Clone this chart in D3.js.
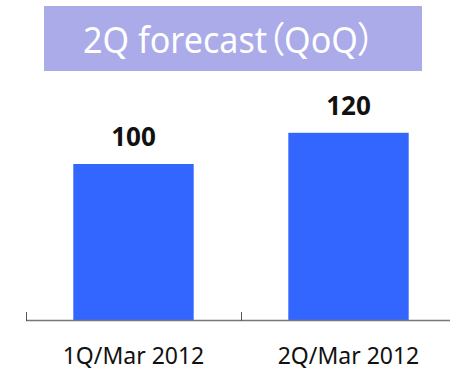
<!DOCTYPE html>
<html><head><meta charset="utf-8">
<script src="https://cdn.jsdelivr.net/npm/d3@7"></script>
<style>html,body{margin:0;padding:0;background:#fff;}svg{display:block;}
.palt{font-feature-settings:"palt" 1;}</style>
</head><body>
<script>
const title = "2Q forecast（QoQ）";
const categories = ["1Q/Mar 2012", "2Q/Mar 2012"];
const values = [100, 120];

const W = 450, H = 371;
const svg = d3.select("body").append("svg").attr("width", W).attr("height", H);

// title box
svg.append("rect").attr("x", 44).attr("y", 6).attr("width", 378).attr("height", 65).attr("fill", "#ABABEA");
svg.append("text").attr("x", 83).attr("y", 53).attr("fill", "#fff").attr("class", "palt")
  .attr("font-family", "'Noto Sans', 'Noto Sans CJK JP', sans-serif").attr("font-size", 36)
  .attr("textLength", 292).attr("lengthAdjust", "spacingAndGlyphs")
  .text(title);

const x = d3.scaleBand().domain(categories).range([26, 456]).paddingInner(0.44).paddingOuter(0.22);
const y = d3.scaleLinear().domain([0, 150]).range([320, 86]);

svg.selectAll("rect.bar").data(values).join("rect").attr("class", "bar")
  .attr("x", (d, i) => x(categories[i])).attr("width", x.bandwidth())
  .attr("y", d => y(d)).attr("height", d => y(0) - y(d)).attr("fill", "#3366FF");

svg.selectAll("text.val").data(values).join("text").attr("class", "val")
  .attr("x", (d, i) => x(categories[i]) + x.bandwidth() / 2).attr("y", d => y(d) - 18)
  .attr("text-anchor", "middle").attr("font-family", "'Open Sans', sans-serif")
  .attr("font-weight", "bold").attr("font-size", 26).attr("fill", "#111")
  .text(d => d);

// axis
const ax = svg.append("g");
ax.append("line").attr("x1", 26).attr("x2", 450).attr("y1", 320.5).attr("y2", 320.5).attr("stroke", "#777").attr("stroke-width", 1.5);
const tickXs = [26, 241];
ax.selectAll("line.tk").data(tickXs).join("line").attr("class", "tk")
  .attr("x1", d => d + 0.5).attr("x2", d => d + 0.5).attr("y1", 312).attr("y2", 321).attr("stroke", "#555").attr("stroke-width", 1);

svg.selectAll("text.cat").data(categories).join("text").attr("class", "cat")
  .attr("x", d => x(d) + x.bandwidth() / 2).attr("y", 364)
  .attr("text-anchor", "middle").attr("font-family", "'Noto Sans', sans-serif")
  .attr("font-size", 23).attr("fill", "#111")
  .text(d => d);
</script>
</body></html>
